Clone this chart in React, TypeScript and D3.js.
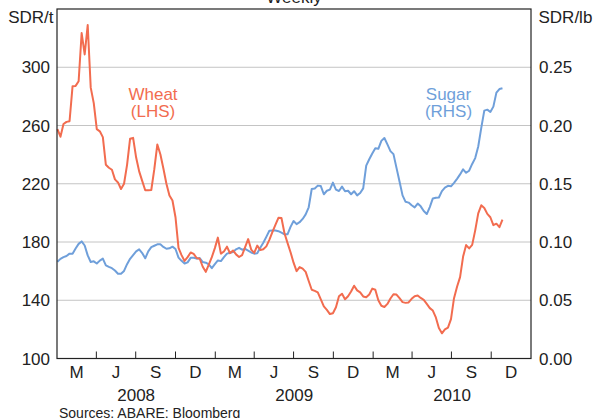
import React from "react";
import * as d3 from "d3";

// Weekly observations starting from this date
const startDate = new Date(2008, 0, 2);

// Wheat, SDR per tonne (LHS)
const wheat = [
  257.5, 252.3, 261, 262.5, 262.9, 287, 287.2, 290.4, 323.5, 308.8,
  329, 286, 275.4, 257.5, 256, 252, 233, 231, 229.6, 223,
  220.9, 216.4, 220, 233, 251, 251.5, 238, 228.5, 222, 215.5,
  215.5, 215.7, 230, 247, 240.3, 230.5, 220, 212, 208.5, 197,
  176, 171, 167, 169.6, 172.8, 171.8, 169, 168.5, 163, 159.5,
  164.5, 169.6, 175.8, 183, 172, 173.5, 176.8, 172.3, 174.2, 171.5,
  169.7, 171, 176.5, 182, 174.8, 172.5, 177.5, 174.5, 175, 177,
  181.5, 186.8, 191.8, 196.6, 196.5, 186, 179.4, 173, 165.8, 160,
  162.8, 161.7, 159.5, 153.2, 147.2, 146.4, 145.4, 140.6, 135.8, 133.4,
  130.5, 131.1, 135.2, 142.8, 144.5, 140.7, 142.8, 146, 150, 146.8,
  145.4, 142.6, 142.1, 144, 148, 147.2, 140, 136.2, 135.4, 137.5,
  141.2, 144.1, 143.9, 141.4, 138.7, 138.2, 138.5, 141, 142.8, 143.3,
  141.6, 140.3, 137.5, 134.6, 132.9, 128.2, 121, 117.3, 120, 121.2,
  127, 141.4, 149.3, 155.9, 170, 177.9, 175.6, 178, 188, 199.7,
  205.2, 203.4, 199.3, 197, 191.6, 192.6, 190.2, 195.4,
];

// Sugar, SDR per lb (RHS)
const sugar = [
  0.083, 0.0855, 0.087, 0.088, 0.09, 0.09, 0.0944, 0.0984, 0.1005, 0.097,
  0.0885, 0.0828, 0.0834, 0.0815, 0.084, 0.0857, 0.08, 0.0787, 0.0775, 0.0755,
  0.0728, 0.0728, 0.0752, 0.081, 0.0856, 0.0888, 0.092, 0.0937, 0.0905, 0.086,
  0.092, 0.0956, 0.0968, 0.098, 0.098, 0.0958, 0.0942, 0.0946, 0.096, 0.094,
  0.0866, 0.0838, 0.0815, 0.0825, 0.0864, 0.0865, 0.0857, 0.0862, 0.0828, 0.0822,
  0.0808, 0.0775, 0.081, 0.0842, 0.0836, 0.087, 0.09, 0.0907, 0.0913, 0.0937,
  0.095, 0.0934, 0.094, 0.0926, 0.091, 0.09, 0.0903, 0.095, 0.0993, 0.1044,
  0.1097, 0.1099, 0.1099, 0.1093, 0.108, 0.1066, 0.1066, 0.113, 0.118, 0.1153,
  0.117, 0.1198, 0.1237, 0.1298, 0.1455, 0.146, 0.1484, 0.148, 0.141, 0.144,
  0.145, 0.151, 0.145, 0.1438, 0.1475, 0.1435, 0.144, 0.141, 0.1436, 0.14,
  0.142, 0.146, 0.1656, 0.171, 0.176, 0.1805, 0.18, 0.1868, 0.1893, 0.1838,
  0.178, 0.1754, 0.1636, 0.152, 0.14, 0.1345, 0.1338, 0.1315, 0.1297, 0.133,
  0.1306, 0.1266, 0.124, 0.13, 0.1374, 0.138, 0.1382, 0.1437, 0.1467, 0.1482,
  0.1478, 0.1508, 0.1542, 0.158, 0.1624, 0.1594, 0.1612, 0.167, 0.172, 0.182,
  0.198, 0.2128, 0.2136, 0.2116, 0.2162, 0.2282, 0.2313, 0.232,
];

const leftTicks = [100, 140, 180, 220, 260, 300];
const rightTicks = [0, 0.05, 0.1, 0.15, 0.2, 0.25];
const quarterLabels = ["M", "J", "S", "D"];
const yearLabels = ["2008", "2009", "2010"];

const WHEAT_COLOR = "#f26c4f";
const SUGAR_COLOR = "#6f9fda";
const FONT = "'Liberation Sans', Arial, Helvetica, sans-serif";

export default function App() {
  const W = 595;
  const H = 418;
  const left = 57;
  const right = 531;
  const top = 9;
  const bottom = 358.5;

  const x = d3
    .scaleTime()
    .domain([new Date(2008, 0, 1), new Date(2011, 0, 1)])
    .range([left, right]);
  const yL = d3.scaleLinear().domain([100, 340]).range([bottom, top]);
  const yR = d3.scaleLinear().domain([0, 0.3]).range([bottom, top]);

  const dates = wheat.map((_, i) => d3.timeDay.offset(startDate, 7 * i));

  const wheatLine = d3
    .line<number>()
    .x((_, i) => x(dates[i]))
    .y((d) => yL(d));
  const sugarLine = d3
    .line<number>()
    .x((_, i) => x(dates[i]))
    .y((d) => yR(d));

  const qTicks = d3.timeMonth.every(3)!.range(new Date(2008, 0, 1), new Date(2011, 0, 2));
  const fmtR = d3.format(".2f");

  return (
    <svg
      width={W}
      height={H}
      style={{ position: "absolute", left: 0, top: 0, background: "#fff" }}
      fontFamily={FONT}
    >
      <rect x={0} y={0} width={W} height={H} fill="#fff" />
      {/* gridlines */}
      {leftTicks
        .filter((t) => t > 100)
        .map((t) => (
          <line
            key={"g" + t}
            x1={left}
            x2={right}
            y1={yL(t)}
            y2={yL(t)}
            stroke="#c4c4c4"
            strokeWidth={1}
          />
        ))}
      {/* quarter ticks */}
      {qTicks.slice(1, -1).map((d, i) => (
        <line
          key={"q" + i}
          x1={x(d)}
          x2={x(d)}
          y1={bottom}
          y2={bottom - 7}
          stroke="#222"
          strokeWidth={1}
        />
      ))}
      {/* lines */}
      <path d={sugarLine(sugar) || ""} fill="none" stroke={SUGAR_COLOR} strokeWidth={2} strokeLinejoin="round" />
      <path d={wheatLine(wheat) || ""} fill="none" stroke={WHEAT_COLOR} strokeWidth={2} strokeLinejoin="round" />
      {/* frame */}
      <rect x={left} y={top} width={right - left} height={bottom - top} fill="none" stroke="#222" strokeWidth={1.2} />

      {/* left axis labels */}
      {leftTicks.map((t) => (
        <text key={"l" + t} x={50} y={yL(t)} dy="0.36em" textAnchor="end" fontSize={17} fill="#222">
          {t}
        </text>
      ))}
      {rightTicks.map((t) => (
        <text key={"r" + t} x={539} y={yR(t)} dy="0.36em" textAnchor="start" fontSize={17} fill="#222">
          {fmtR(t)}
        </text>
      ))}
      <text x={53.5} y={23} textAnchor="end" fontSize={17} fill="#222">SDR/t</text>
      <text x={538.5} y={23} textAnchor="start" fontSize={17} fill="#222">SDR/lb</text>
      <text x={294} y={3} textAnchor="middle" fontSize={17} fill="#222">Weekly</text>

      {/* month labels */}
      {qTicks.slice(0, -1).map((d, i) => {
        const next = qTicks[i + 1];
        const cx = (x(d) + x(next)) / 2;
        return (
          <text key={"m" + i} x={cx} y={378} textAnchor="middle" fontSize={17} fill="#222">
            {quarterLabels[i % 4]}
          </text>
        );
      })}
      {yearLabels.map((yy) => {
        const yr = +yy;
        const cx = (x(new Date(yr, 0, 1)) + x(new Date(yr + 1, 0, 1))) / 2;
        return (
          <text key={"y" + yy} x={cx} y={401} textAnchor="middle" fontSize={17} fill="#222">
            {yy}
          </text>
        );
      })}

      {/* series labels */}
      <text x={153} y={99.5} textAnchor="middle" fontSize={17} fill={WHEAT_COLOR}>Wheat</text>
      <text x={153} y={117} textAnchor="middle" fontSize={17} fill={WHEAT_COLOR}>(LHS)</text>
      <text x={448.5} y={99.5} textAnchor="middle" fontSize={17} fill={SUGAR_COLOR}>Sugar</text>
      <text x={448.5} y={117} textAnchor="middle" fontSize={17} fill={SUGAR_COLOR}>(RHS)</text>

      <text x={59} y={418} textAnchor="start" fontSize={14} fill="#222">Sources: ABARE; Bloomberg</text>
    </svg>
  );
}
